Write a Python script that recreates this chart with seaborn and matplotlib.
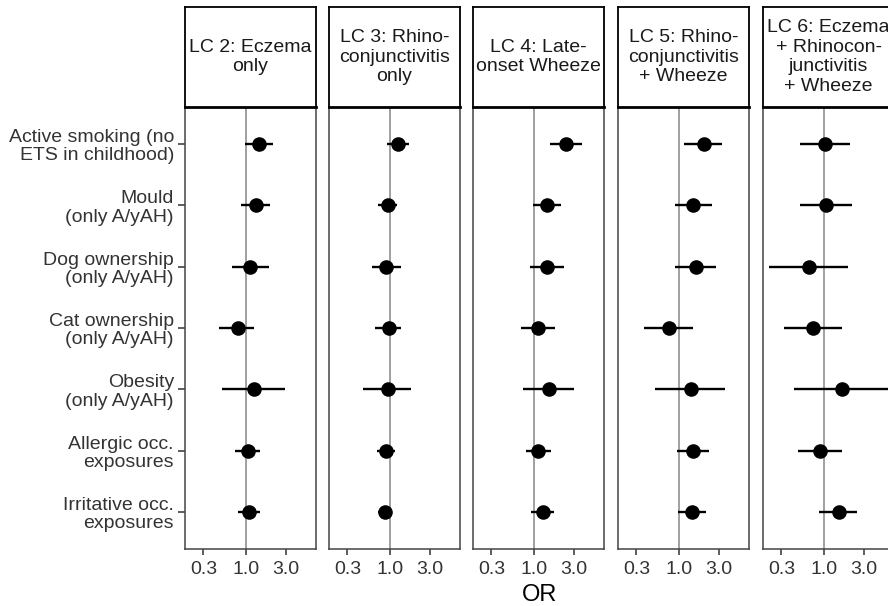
import numpy as np
import pandas as pd
import seaborn as sns
import matplotlib.pyplot as plt

###############################################################
#---------------------------Data-------------------------------#
###############################################################
exposures = ['Active smoking (no\nETS in childhood)', 'Mould\n(only A/yAH)',
             'Dog ownership\n(only A/yAH)', 'Cat ownership\n(only A/yAH)',
             'Obesity\n(only A/yAH)', 'Allergic occ.\nexposures',
             'Irritative occ.\nexposures']

classes = ['LC 2: Eczema\nonly', 'LC 3: Rhino-\nconjunctivitis\nonly',
           'LC 4: Late-\nonset Wheeze', 'LC 5: Rhino-\nconjunctivitis\n+ Wheeze',
           'LC 6: Eczema\n+ Rhinocon-\njunctivitis\n+ Wheeze']

# odds ratios and 95% CI per latent class
or_lc2 = [1.44, 1.32, 1.11, 0.78, 1.23, 1.03, 1.06]
lo_lc2 = [0.95, 0.87, 0.66, 0.47, 0.51, 0.72, 0.78]
hi_lc2 = [2.12, 1.95, 1.87, 1.24, 2.97, 1.47, 1.45]

or_lc3 = [1.23, 0.93, 0.89, 0.95, 0.93, 0.89, 0.86]
lo_lc3 = [0.91, 0.70, 0.59, 0.65, 0.47, 0.68, 0.70]
hi_lc3 = [1.67, 1.20, 1.33, 1.33, 1.80, 1.15, 1.05]

or_lc4 = [2.42, 1.44, 1.42, 1.10, 1.49, 1.11, 1.27]
lo_lc4 = [1.55, 0.95, 0.89, 0.69, 0.72, 0.79, 0.91]
hi_lc4 = [3.78, 2.10, 2.27, 1.76, 3.02, 1.58, 1.75]

or_lc5 = [1.99, 1.48, 1.58, 0.74, 1.37, 1.46, 1.42]
lo_lc5 = [1.15, 0.88, 0.89, 0.37, 0.51, 0.93, 0.95]
hi_lc5 = [3.31, 2.46, 2.78, 1.46, 3.57, 2.31, 2.12]

or_lc6 = [1.02, 1.05, 0.64, 0.73, 1.64, 0.89, 1.51]
lo_lc6 = [0.50, 0.50, 0.21, 0.32, 0.43, 0.48, 0.86]
hi_lc6 = [2.06, 2.16, 1.93, 1.62, 5.90, 1.62, 2.51]

estimates = [(or_lc2, lo_lc2, hi_lc2), (or_lc3, lo_lc3, hi_lc3),
             (or_lc4, lo_lc4, hi_lc4), (or_lc5, lo_lc5, hi_lc5),
             (or_lc6, lo_lc6, hi_lc6)]

rows = []
for cls, (est, lo, hi) in zip(classes, estimates):
    for i, exp in enumerate(exposures):
        rows.append({'cls': cls, 'exposure': exp, 'pos': i,
                     'OR': est[i], 'lo': lo[i], 'hi': hi[i]})
df = pd.DataFrame(rows)

###############################################################
#-------------------------Plotting-----------------------------#
###############################################################
sns.set_style('ticks')
plt.rcParams['font.family'] = ['Liberation Sans', 'DejaVu Sans']

W, H = 888, 606
fig = plt.figure(figsize=(W / 100, H / 100), dpi=100)

panel_left = [185, 329, 473, 618, 763]
panel_w = 131
panel_top, panel_bot = 107, 549
head_top = 7

for k, cls in enumerate(classes):
    x0 = panel_left[k] / W
    ax = fig.add_axes([x0, 1 - panel_bot / H, panel_w / W, (panel_bot - panel_top) / H])
    sub = df[df['cls'] == cls]
    ax.axvline(1, color='#a0a0a0', lw=1.4, zorder=0)
    ax.hlines(sub['pos'], sub['lo'], sub['hi'], color='black', lw=1.7, zorder=2)
    sns.scatterplot(data=sub, x='OR', y='pos', ax=ax, s=110, color='black',
                    edgecolor='black', linewidth=0, zorder=3, legend=False)
    ax.set_xscale('log')
    ax.set_xlim(0.179, 7.0)
    ax.set_ylim(len(exposures) - 0.4, -0.6)
    ax.set_xticks([0.3, 1.0, 3.0])
    ax.set_xticklabels(['0.3', '1.0', '3.0'])
    ax.minorticks_off()
    ax.tick_params(axis='x', length=4.5, width=1.1, color='#333333',
                   labelsize=14, labelcolor='#333333', pad=4)
    if k == 0:
        ax.set_yticks(range(len(exposures)))
        ax.set_yticklabels(exposures, linespacing=1.1)
        ax.tick_params(axis='y', length=5, width=1.1, color='#333333',
                       labelsize=14, labelcolor='#333333', pad=3)
    else:
        ax.set_yticks([])
    ax.set_xlabel('')
    ax.set_ylabel('')
    for sp in ax.spines.values():
        sp.set_visible(True)
        sp.set_color('#444444')
        sp.set_linewidth(1.1)

    # facet header box
    hax = fig.add_axes([x0, 1 - panel_top / H, panel_w / W, (panel_top - head_top) / H])
    hax.set_xticks([])
    hax.set_yticks([])
    for sp in hax.spines.values():
        sp.set_color('black')
        sp.set_linewidth(1.3)
    hax.spines['bottom'].set_linewidth(2)
    hax.text(0.5, 0.5, cls, ha='center', va='center', fontsize=14,
             color='#1a1a1a', linespacing=1.2, transform=hax.transAxes)

fig.text(540 / W, 1 - 595 / H, 'OR', ha='center', va='center', fontsize=17,
         color='black')

fig.savefig('out.png', dpi=100)
